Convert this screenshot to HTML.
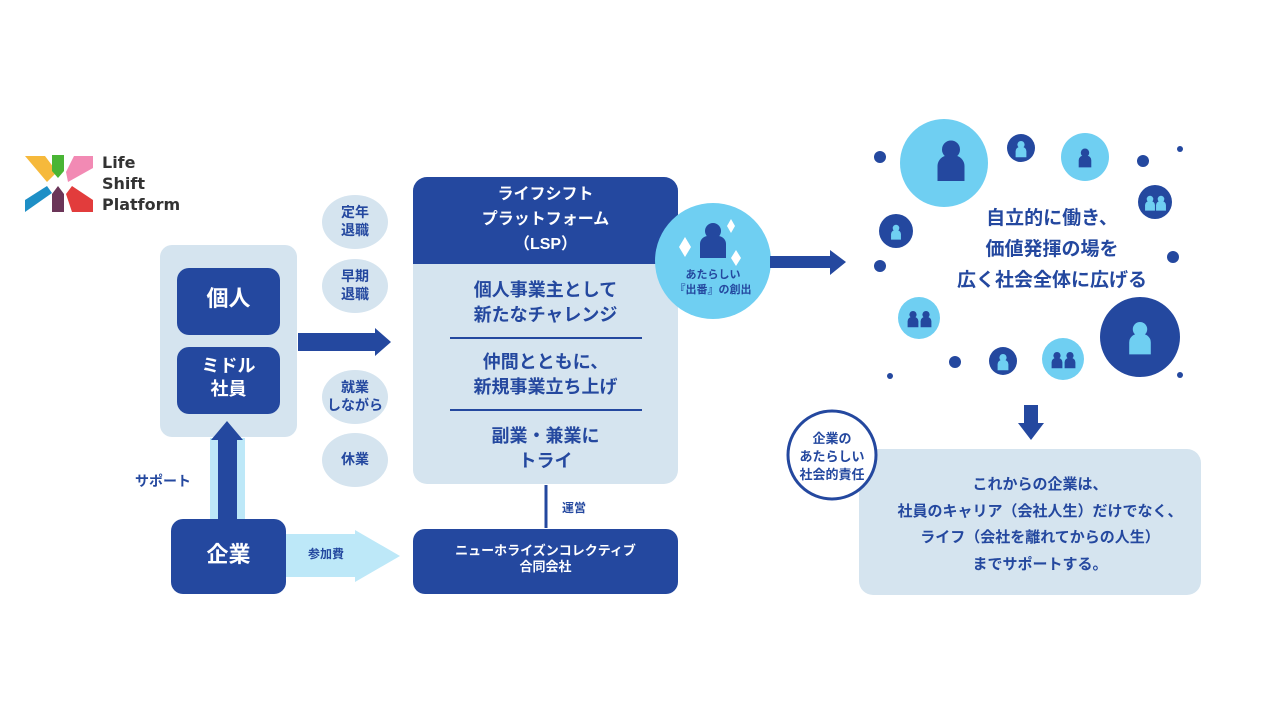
<!DOCTYPE html>
<html><head><meta charset="utf-8"><style>
body{margin:0;width:1280px;height:719px;background:#fff;position:relative;overflow:hidden;font-family:"Liberation Sans","Noto Sans CJK JP",sans-serif;font-weight:bold;color:#24489f}
.a{position:absolute}
.t{position:absolute;text-align:center;line-height:1.3}
.w{color:#fff}
</style></head><body>
<svg class="a" style="left:0;top:0" width="1280" height="719">
<defs>
<g id="p"><circle cx="0" cy="-9" r="6"/><path d="M-9 12V2a7 7 0 0 1 7-7h4a7 7 0 0 1 7 7v10z"/></g>
</defs>
<path d="M25 156 L45 156 L57 172 L47 182 Z" fill="#f6b93b"/>
<path d="M52 155 L64 155 L64 171 L58 178 L52 171 Z" fill="#49b535"/>
<path d="M74 156 L93 156 L93 168 L68 182 L66 172 Z" fill="#f28ab4"/>
<path d="M25 212 L25 200 L47 186 L52 193 Z" fill="#1e8fc6"/>
<path d="M52 212 L52 194 L58 186 L64 194 L64 212 Z" fill="#6b3558"/>
<path d="M93 212 L72 212 L66 194 L72 186 L93 200 Z" fill="#e23c3c"/>
<rect x="160" y="245" width="137" height="192" rx="12" fill="#d5e4ef"/>
<rect x="177" y="268" width="103" height="67" rx="12" fill="#24489f"/>
<rect x="177" y="347" width="103" height="67" rx="12" fill="#24489f"/>
<rect x="210" y="438" width="35" height="82" fill="#bde8f8"/>
<rect x="218" y="438" width="19" height="84" fill="#24489f"/>
<path d="M211 440 L227 421 L243 440 Z" fill="#24489f"/>
<rect x="171" y="519" width="115" height="75" rx="12" fill="#24489f"/>
<path d="M286 534 H355 V530 L400 556 L355 582 V577 H286 Z" fill="#bde8f8"/>
<ellipse cx="355" cy="222" rx="33" ry="27" fill="#d5e4ef"/>
<ellipse cx="355" cy="286" rx="33" ry="27" fill="#d5e4ef"/>
<ellipse cx="355" cy="397" rx="33" ry="27" fill="#d5e4ef"/>
<ellipse cx="355" cy="460" rx="33" ry="27" fill="#d5e4ef"/>
<path d="M298 333 H375 V328 L391 342 L375 356 V351 H298 Z" fill="#24489f"/>
<rect x="413" y="177" width="265" height="307" rx="14" fill="#d5e4ef"/>
<path d="M413 264 V191 a14 14 0 0 1 14 -14 H664 a14 14 0 0 1 14 14 V264 Z" fill="#24489f"/>
<line x1="450" y1="338" x2="642" y2="338" stroke="#24489f" stroke-width="2"/>
<line x1="450" y1="410" x2="642" y2="410" stroke="#24489f" stroke-width="2"/>
<line x1="546" y1="485" x2="546" y2="528" stroke="#24489f" stroke-width="3"/>
<rect x="413" y="529" width="265" height="65" rx="12" fill="#24489f"/>
<circle cx="713" cy="261" r="58" fill="#6fcff2"/>
<g fill="#24489f" transform="translate(713,242)"><circle cx="0" cy="-11" r="8"/><path d="M-13 16V2a8 8 0 0 1 8-8h10a8 8 0 0 1 8 8v14z"/></g>
<g fill="#fff"><path d="M685 237 l6 10 l-6 10 l-6 -10z"/><path d="M731 219 l4 7 l-4 7 l-4 -7z"/><path d="M736 250 l5 8 l-5 8 l-5 -8z"/></g>
<path d="M770 256 H830 V250 L846 262 L830 275 V268 H770 Z" fill="#24489f"/>
<g fill="#24489f">
<circle cx="880" cy="157" r="6"/><circle cx="1143" cy="161" r="6"/><circle cx="1180" cy="149" r="3"/><circle cx="880" cy="266" r="6"/><circle cx="1173" cy="257" r="6"/><circle cx="955" cy="362" r="6"/><circle cx="890" cy="376" r="3"/><circle cx="1180" cy="375" r="3"/>
</g>
<circle cx="944" cy="163" r="44" fill="#6fcff2"/>
<g fill="#24489f" transform="translate(951,163) scale(1.5)"><use href="#p"/></g>
<circle cx="1021" cy="148" r="14" fill="#24489f"/><g fill="#6fcff2" transform="translate(1021,150) scale(.6)"><use href="#p"/></g>
<circle cx="1085" cy="157" r="24" fill="#6fcff2"/><g fill="#24489f" transform="translate(1085,159) scale(.7)"><use href="#p"/></g>
<circle cx="1155" cy="202" r="17" fill="#24489f"/><g fill="#6fcff2" transform="translate(1150,204) scale(.55)"><use href="#p"/></g><g fill="#6fcff2" transform="translate(1161,204) scale(.55)"><use href="#p"/></g>
<circle cx="896" cy="231" r="17" fill="#24489f"/><g fill="#6fcff2" transform="translate(896,233) scale(.55)"><use href="#p"/></g>
<circle cx="919" cy="318" r="21" fill="#6fcff2"/><g fill="#24489f" transform="translate(913,320) scale(.6)"><use href="#p"/></g><g fill="#24489f" transform="translate(926,320) scale(.6)"><use href="#p"/></g>
<circle cx="1140" cy="337" r="40" fill="#24489f"/><g fill="#6fcff2" transform="translate(1140,340) scale(1.2)"><use href="#p"/></g>
<circle cx="1003" cy="361" r="14" fill="#24489f"/><g fill="#6fcff2" transform="translate(1003,363) scale(.6)"><use href="#p"/></g>
<circle cx="1063" cy="359" r="21" fill="#6fcff2"/><g fill="#24489f" transform="translate(1057,361) scale(.6)"><use href="#p"/></g><g fill="#24489f" transform="translate(1070,361) scale(.6)"><use href="#p"/></g>
<path d="M1024 405 H1038 V423 H1044 L1031 440 L1018 423 H1024 Z" fill="#24489f"/>
<rect x="859" y="449" width="342" height="146" rx="14" fill="#d5e4ef"/>
<circle cx="832" cy="455" r="44" fill="#fff" stroke="#24489f" stroke-width="3"/>
</svg>
<div class="a" style="left:102px;top:152px;font-size:16px;line-height:21px;color:#333;font-family:'DejaVu Sans',sans-serif">Life<br>Shift<br>Platform</div>
<div class="t w" style="left:177px;top:285px;width:103px;font-size:22px">個人</div>
<div class="t w" style="left:177px;top:355px;width:103px;font-size:18px">ミドル<br>社員</div>
<div class="t" style="left:135px;top:472px;font-size:14px">サポート</div>
<div class="t w" style="left:171px;top:541px;width:115px;font-size:22px">企業</div>
<div class="t" style="left:308px;top:547px;font-size:12px">参加費</div>
<div class="t" style="left:322px;top:203px;width:66px;font-size:14px">定年<br>退職</div>
<div class="t" style="left:322px;top:267px;width:66px;font-size:14px">早期<br>退職</div>
<div class="t" style="left:322px;top:378px;width:66px;font-size:14px">就業<br>しながら</div>
<div class="t" style="left:322px;top:450px;width:66px;font-size:14px">休業</div>
<div class="t w" style="left:413px;top:182px;width:265px;font-size:16px;line-height:25px">ライフシフト<br>プラットフォーム<br>（LSP）</div>
<div class="t" style="left:413px;top:278px;width:265px;font-size:18px;line-height:25px">個人事業主として<br>新たなチャレンジ</div>
<div class="t" style="left:413px;top:350px;width:265px;font-size:18px;line-height:25px">仲間とともに、<br>新規事業立ち上げ</div>
<div class="t" style="left:413px;top:424px;width:265px;font-size:18px;line-height:25px">副業・兼業に<br>トライ</div>
<div class="t" style="left:562px;top:501px;font-size:12px">運営</div>
<div class="t w" style="left:413px;top:543px;width:265px;font-size:13px;line-height:16px">ニューホライズンコレクティブ<br>合同会社</div>
<div class="t" style="left:655px;top:268px;width:116px;font-size:11px;line-height:15px">あたらしい<br>『出番』の創出</div>
<div class="t" style="left:952px;top:203px;width:200px;font-size:19px;line-height:31px">自立的に働き、<br>価値発揮の場を<br>広く社会全体に広げる</div>
<div class="t" style="left:788px;top:430px;width:88px;font-size:13px;line-height:18px">企業の<br>あたらしい<br>社会的責任</div>
<div class="t" style="left:859px;top:472px;width:362px;font-size:15px;line-height:26.5px">これからの企業は、<br>社員のキャリア（会社人生）だけでなく、<br>ライフ（会社を離れてからの人生）<br>までサポートする。</div>
</body></html>
